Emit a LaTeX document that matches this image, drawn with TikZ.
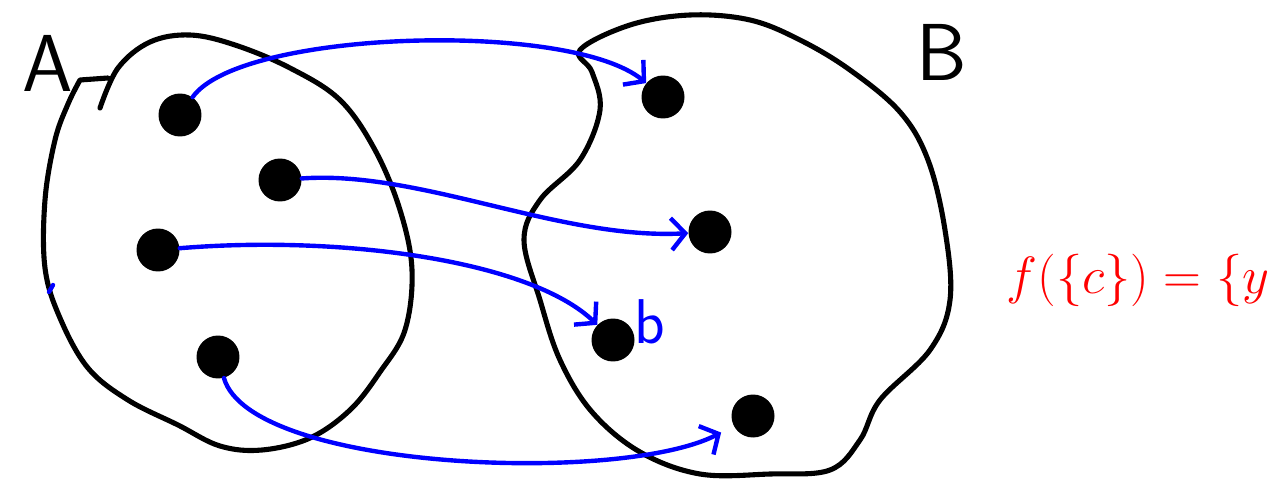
\documentclass[tikz,border=0pt]{standalone}
\usepackage{amsmath,amssymb}
\usetikzlibrary{arrows.meta}

\begin{document}
\begin{tikzpicture}[x=0.02cm,y=-0.02cm]
\tikzset{
  setline/.style={draw=black,line width=2.9pt,line cap=round,line join=round},
  element/.style={circle,fill=black,minimum size=0.86cm,inner sep=0pt},
  mapsto/.style={draw=blue,line width=2.5pt,line cap=round,-{Straight Barb[length=2.8mm,width=6.4mm,line width=2.5pt]}},
  setlabel/.style={font=\sffamily\fontsize{46}{46}\selectfont,inner sep=0pt},
  note/.style={text=red,font=\Huge,inner sep=0pt}
}
\useasboundingbox (0,0) rectangle (1274,483);
% the two sets
\draw[setline] plot[smooth,tension=0.6] coordinates {(100,108) (118,68) (150,42) (190,35) (235,45) (290,68) (340,100) (375,150) (400,210) (412,270) (405,330) (380,372) (350,410) (310,438) (262,450) (220,446) (178,425) (128,400) (88,368) (60,318) (45,268) (45,200) (55,140) (68,104) (80,80)} -- (108,78);
\draw[setline] plot[smooth cycle,tension=0.6] coordinates {(580,50) (630,25) (690,15) (750,20) (800,40) (850,70) (900,112) (928,160) (945,230) (950,300) (930,350) (880,400) (860,440) (830,470) (770,474) (700,474) (640,452) (592,412) (560,360) (540,300) (524,240) (540,200) (580,160) (600,110) (592,72)};
\node[setlabel] (l_A) at (48,63) {A};
\node[setlabel] (l_B) at (942,52) {B};
% elements
\node[element] (n_a1) at (180,115) {};
\node[element] (n_a2) at (280,180) {};
\node[element] (n_a3) at (158,250) {};
\node[element] (n_a4) at (218,357) {};
\node[element] (n_b1) at (663,97) {};
\node[element] (n_b2) at (710,232) {};
\node[element] (n_b3) at (613,340) {};
\node[element] (n_b4) at (753,416) {};
\node[text=blue,font=\sffamily\fontsize{36}{36}\selectfont,inner sep=0pt] (l_b) at (650,322) {b};
% the map
\draw[mapsto] (n_a1) .. controls (240,30) and (570,20) .. (n_b1);
\draw[mapsto] (n_a2) .. controls (420,170) and (560,240) .. (n_b2);
\draw[mapsto] (n_a3) .. controls (340,235) and (530,260) .. (n_b3);
\draw[mapsto,shorten >=8pt] (n_a4) .. controls (250,470) and (620,485) .. (n_b4);
\draw[draw=blue,line width=2.5pt,line cap=round] (49,292) -- (53,285);
% note
\node[note] (l_note) at (1138,280) {\scalebox{1.2}{$f(\{c\})=\{y$}};
\end{tikzpicture}
\end{document}
